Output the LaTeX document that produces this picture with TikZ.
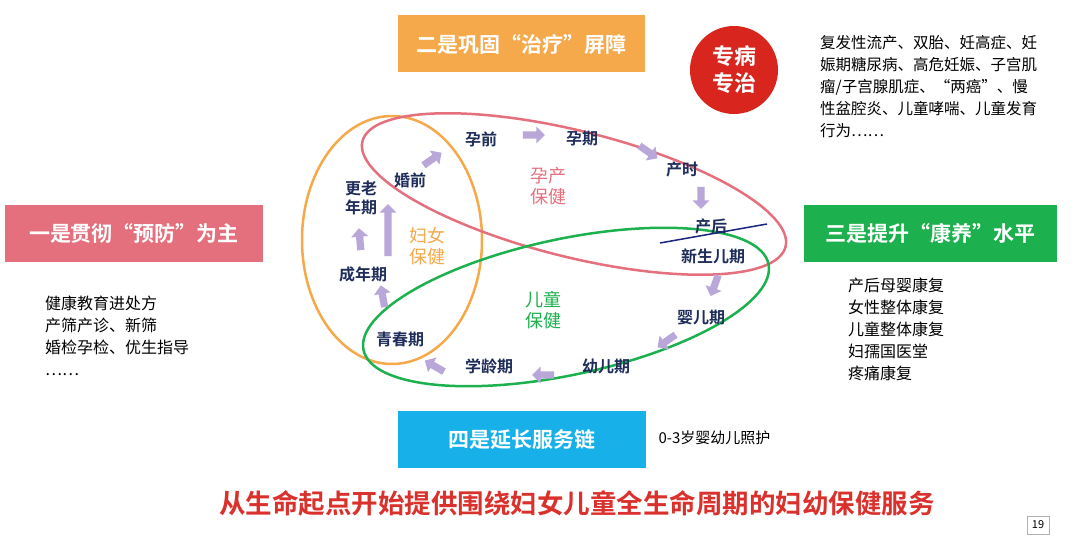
\documentclass[tikz,border=0pt]{standalone}
\usepackage{fontspec}
\setmainfont{Noto Sans CJK SC}[BoldFont={Noto Sans CJK SC Bold}]
\usetikzlibrary{shapes.arrows}
\definecolor{navy}{HTML}{1F2D5A}
\definecolor{pk}{HTML}{E4707E}
\definecolor{og}{HTML}{F5A94A}
\definecolor{gr}{HTML}{1DB04E}
\definecolor{bl}{HTML}{17B0E8}
\definecolor{rd}{HTML}{D8261F}
\definecolor{lav}{HTML}{B9A7DA}
\begin{document}
\begin{tikzpicture}[x=1pt,y=-1pt,
 stage/.style={font=\bfseries\fontsize{16}{19}\selectfont,text=navy,align=center,inner sep=1pt},
 zone/.style={font=\fontsize{18}{21}\selectfont,align=center},
 box/.style={font=\bfseries\fontsize{21}{24}\selectfont,text=white,minimum height=57pt,inner sep=0pt},
 blk/.style={font=\fontsize{16}{22}\selectfont,align=left,anchor=north west,inner sep=0pt},
 arr/.style={single arrow,fill=lav,draw=none,minimum height=22pt,minimum width=17pt,single arrow head extend=3pt,inner sep=2pt}]
\useasboundingbox (0,0) rectangle (1080,537);
\fill[white] (0,0) rectangle (1080,537);
% ellipses
\draw[og,line width=2.5pt] (392,240) ellipse[x radius=90,y radius=124];
\draw[pk,line width=2.5pt,rotate around={-14:(574,194)}] (574,194) ellipse[x radius=218,y radius=63];
\draw[gr,line width=2.5pt,rotate around={12:(566,307)}] (566,307) ellipse[x radius=207,y radius=68];
% stages
\node[stage] (yq) at (481,139) {孕前};
\node[stage] (yj) at (582,139) {孕期};
\node[stage] (cs) at (682,169) {产时};
\node[stage] (ch) at (711,226) {产后};
\node[stage] (xs) at (713,256) {新生儿期};
\node[stage] (ye) at (701,318) {婴儿期};
\node[stage] (ye2) at (606,366) {幼儿期};
\node[stage] (xl) at (489,366) {学龄期};
\node[stage] (qc) at (400,339) {青春期};
\node[stage] (cn) at (363,274) {成年期};
\node[stage] (gl) at (361,198) {更老\\年期};
\node[stage] (hq) at (410,180) {婚前};
\coordinate (l1) at (660,243); \coordinate (l2) at (767,224);
\draw[navy!80!blue,line width=1.5pt] (l1) -- (l2);
% zone labels
\node[zone,text=pk] (zy) at (548,186) {孕产\\保健};
\node[zone,text=og] (zf) at (427,246) {妇女\\保健};
\node[zone,text=gr] (ze) at (543,310) {儿童\\保健};
% arrows
\node[arr,rotate=0] (a1) at (532,135) {};
\node[arr,rotate=-35] (a2) at (647,151) {};
\node[arr,rotate=-90] (a3) at (701,196) {};
\node[arr,rotate=-110] (a4) at (715,284) {};
\node[arr,rotate=-145] (a5) at (668,340) {};
\node[arr,rotate=180] (a6) at (545,375) {};
\node[arr,rotate=150] (a7) at (436,367) {};
\node[arr,rotate=100] (a8) at (383,298) {};
\node[arr,rotate=95] (a9) at (360,241) {};
\node[arr,rotate=90,minimum height=52pt] (a10) at (388,232) {};
\node[arr,rotate=35] (a11) at (431,160) {};
% boxes
\node[box,fill=og,minimum width=247pt] (b2) at (521.5,44) {二是巩固“治疗”屏障};
\node[box,fill=pk,minimum width=258pt] (b1) at (134,233.5) {一是贯彻“预防”为主};
\node[box,fill=gr,minimum width=253pt] (b3) at (930.5,233.5) {三是提升“康养”水平};
\node[box,fill=bl,minimum width=248pt] (b4) at (522,439.5) {四是延长服务链};
\node[circle,fill=rd,minimum size=88pt,text=white,font=\bfseries\fontsize{22}{27}\selectfont,align=center,inner sep=0pt] (zb) at (734,70) {专病\\专治};
\node[blk,font=\fontsize{15.5}{22}\selectfont] (t1) at (820,35) {复发性流产、双胎、妊高症、妊\\娠期糖尿病、高危妊娠、子宫肌\\瘤/子宫腺肌症、“两癌”、慢\\性盆腔炎、儿童哮喘、儿童发育\\行为……};
\node[blk] (t2) at (45,296) {健康教育进处方\\产筛产诊、新筛\\婚检孕检、优生指导\\……};
\node[blk] (t3) at (848,278) {产后母婴康复\\女性整体康复\\儿童整体康复\\妇孺国医堂\\疼痛康复};
\node[font=\fontsize{15}{18}\selectfont,anchor=west] (t4) at (655,438) {0-3岁婴幼儿照护};
\node[font=\bfseries\fontsize{26.5}{30}\selectfont,text=rd!85!pk] (tt) at (577,503) {从生命起点开始提供围绕妇女儿童全生命周期的妇幼保健服务};
\node[draw=gray!60,font=\fontsize{11}{13}\selectfont,minimum width=22pt,minimum height=18pt,inner sep=0pt] (pg) at (1038,525) {19};
\end{tikzpicture}
\end{document}
